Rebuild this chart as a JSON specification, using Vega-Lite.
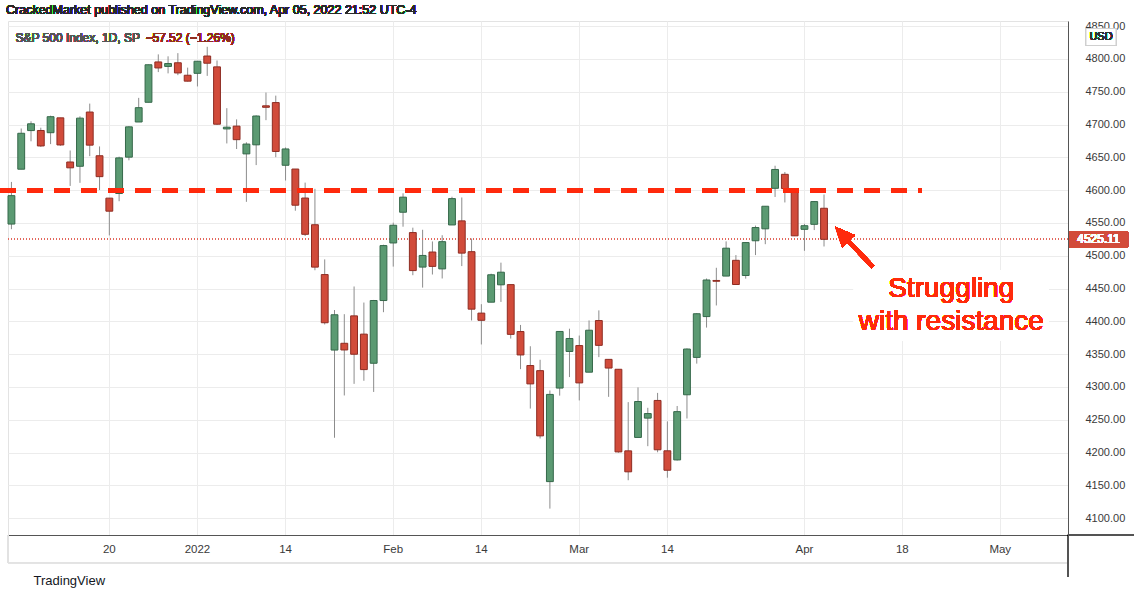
{
  "$schema": "https://vega.github.io/schema/vega-lite/v6.json",
  "width": 1060,
  "height": 514,
  "autosize": {"type": "none"},
  "padding": {"left": 8, "top": 21, "right": 66, "bottom": 56},
  "background": "#ffffff",
  "config": {
    "font": "Liberation Sans",
    "view": {"stroke": "#e3e3e3"}
  },
  "data": {
    "values": [
      {"date": "2021-12-06", "open": 4548.37, "high": 4612.60, "low": 4540.51, "close": 4591.67},
      {"date": "2021-12-07", "open": 4631.97, "high": 4694.04, "low": 4631.97, "close": 4686.75},
      {"date": "2021-12-08", "open": 4690.86, "high": 4705.06, "low": 4674.52, "close": 4701.21},
      {"date": "2021-12-09", "open": 4691.00, "high": 4695.26, "low": 4665.98, "close": 4667.45},
      {"date": "2021-12-10", "open": 4687.64, "high": 4713.57, "low": 4670.24, "close": 4712.02},
      {"date": "2021-12-13", "open": 4710.30, "high": 4710.30, "low": 4667.60, "close": 4668.97},
      {"date": "2021-12-14", "open": 4642.99, "high": 4660.47, "low": 4606.52, "close": 4634.09},
      {"date": "2021-12-15", "open": 4636.46, "high": 4712.60, "low": 4611.22, "close": 4709.85},
      {"date": "2021-12-16", "open": 4719.13, "high": 4731.99, "low": 4651.89, "close": 4668.67},
      {"date": "2021-12-17", "open": 4652.50, "high": 4666.70, "low": 4600.22, "close": 4620.64},
      {"date": "2021-12-20", "open": 4587.90, "high": 4587.90, "low": 4531.10, "close": 4568.02},
      {"date": "2021-12-21", "open": 4594.96, "high": 4651.14, "low": 4583.16, "close": 4649.23},
      {"date": "2021-12-22", "open": 4650.36, "high": 4697.67, "low": 4645.53, "close": 4696.56},
      {"date": "2021-12-23", "open": 4703.96, "high": 4740.74, "low": 4703.96, "close": 4725.79},
      {"date": "2021-12-27", "open": 4733.99, "high": 4791.49, "low": 4733.99, "close": 4791.19},
      {"date": "2021-12-28", "open": 4795.49, "high": 4807.02, "low": 4780.04, "close": 4786.35},
      {"date": "2021-12-29", "open": 4788.64, "high": 4804.06, "low": 4778.08, "close": 4793.06},
      {"date": "2021-12-30", "open": 4794.23, "high": 4808.93, "low": 4775.33, "close": 4778.73},
      {"date": "2021-12-31", "open": 4775.21, "high": 4786.83, "low": 4765.75, "close": 4766.18},
      {"date": "2022-01-03", "open": 4778.14, "high": 4796.64, "low": 4758.17, "close": 4796.56},
      {"date": "2022-01-04", "open": 4804.51, "high": 4818.62, "low": 4774.27, "close": 4793.54},
      {"date": "2022-01-05", "open": 4787.99, "high": 4797.70, "low": 4699.44, "close": 4700.58},
      {"date": "2022-01-06", "open": 4693.39, "high": 4725.01, "low": 4671.26, "close": 4696.05},
      {"date": "2022-01-07", "open": 4697.66, "high": 4707.95, "low": 4662.74, "close": 4677.03},
      {"date": "2022-01-10", "open": 4655.34, "high": 4673.02, "low": 4582.24, "close": 4670.29},
      {"date": "2022-01-11", "open": 4669.14, "high": 4714.13, "low": 4638.27, "close": 4713.07},
      {"date": "2022-01-12", "open": 4728.59, "high": 4748.83, "low": 4706.71, "close": 4726.35},
      {"date": "2022-01-13", "open": 4733.56, "high": 4744.13, "low": 4650.29, "close": 4659.03},
      {"date": "2022-01-14", "open": 4637.99, "high": 4665.13, "low": 4614.75, "close": 4662.85},
      {"date": "2022-01-18", "open": 4632.24, "high": 4632.24, "low": 4568.70, "close": 4577.11},
      {"date": "2022-01-19", "open": 4588.03, "high": 4611.55, "low": 4530.20, "close": 4532.76},
      {"date": "2022-01-20", "open": 4547.35, "high": 4602.11, "low": 4477.95, "close": 4482.73},
      {"date": "2022-01-21", "open": 4471.38, "high": 4494.52, "low": 4395.34, "close": 4397.94},
      {"date": "2022-01-24", "open": 4356.32, "high": 4417.35, "low": 4222.62, "close": 4410.13},
      {"date": "2022-01-25", "open": 4366.64, "high": 4411.01, "low": 4287.11, "close": 4356.45},
      {"date": "2022-01-26", "open": 4408.43, "high": 4453.23, "low": 4304.80, "close": 4349.93},
      {"date": "2022-01-27", "open": 4380.58, "high": 4428.74, "low": 4309.50, "close": 4326.51},
      {"date": "2022-01-28", "open": 4336.19, "high": 4432.72, "low": 4292.46, "close": 4431.85},
      {"date": "2022-01-31", "open": 4431.79, "high": 4516.89, "low": 4414.02, "close": 4515.55},
      {"date": "2022-02-01", "open": 4519.57, "high": 4550.49, "low": 4483.53, "close": 4546.54},
      {"date": "2022-02-02", "open": 4566.39, "high": 4595.31, "low": 4544.32, "close": 4589.38},
      {"date": "2022-02-03", "open": 4535.41, "high": 4542.88, "low": 4470.39, "close": 4477.44},
      {"date": "2022-02-04", "open": 4482.79, "high": 4539.66, "low": 4451.50, "close": 4500.53},
      {"date": "2022-02-07", "open": 4505.75, "high": 4521.86, "low": 4471.47, "close": 4483.87},
      {"date": "2022-02-08", "open": 4480.02, "high": 4531.32, "low": 4465.40, "close": 4521.54},
      {"date": "2022-02-09", "open": 4547.00, "high": 4590.03, "low": 4547.00, "close": 4587.18},
      {"date": "2022-02-10", "open": 4553.24, "high": 4588.92, "low": 4484.31, "close": 4504.08},
      {"date": "2022-02-11", "open": 4506.27, "high": 4526.33, "low": 4401.41, "close": 4418.64},
      {"date": "2022-02-14", "open": 4412.61, "high": 4426.22, "low": 4364.84, "close": 4401.67},
      {"date": "2022-02-15", "open": 4429.28, "high": 4472.77, "low": 4429.28, "close": 4471.07},
      {"date": "2022-02-16", "open": 4455.75, "high": 4489.55, "low": 4429.68, "close": 4475.01},
      {"date": "2022-02-17", "open": 4456.06, "high": 4456.06, "low": 4373.81, "close": 4380.26},
      {"date": "2022-02-18", "open": 4384.57, "high": 4394.60, "low": 4327.22, "close": 4348.87},
      {"date": "2022-02-22", "open": 4332.74, "high": 4362.12, "low": 4267.11, "close": 4304.76},
      {"date": "2022-02-23", "open": 4324.93, "high": 4341.51, "low": 4221.51, "close": 4225.50},
      {"date": "2022-02-24", "open": 4155.77, "high": 4294.73, "low": 4114.65, "close": 4288.70},
      {"date": "2022-02-25", "open": 4298.38, "high": 4385.34, "low": 4286.83, "close": 4384.65},
      {"date": "2022-02-28", "open": 4354.17, "high": 4388.84, "low": 4315.12, "close": 4373.94},
      {"date": "2022-03-01", "open": 4363.14, "high": 4378.45, "low": 4279.54, "close": 4306.26},
      {"date": "2022-03-02", "open": 4322.56, "high": 4401.48, "low": 4322.56, "close": 4386.54},
      {"date": "2022-03-03", "open": 4401.31, "high": 4416.78, "low": 4345.56, "close": 4363.49},
      {"date": "2022-03-04", "open": 4342.12, "high": 4342.12, "low": 4284.98, "close": 4328.87},
      {"date": "2022-03-07", "open": 4327.01, "high": 4327.01, "low": 4199.85, "close": 4201.09},
      {"date": "2022-03-08", "open": 4202.66, "high": 4276.94, "low": 4157.87, "close": 4170.70},
      {"date": "2022-03-09", "open": 4223.10, "high": 4299.40, "low": 4223.10, "close": 4277.88},
      {"date": "2022-03-10", "open": 4252.55, "high": 4268.28, "low": 4209.80, "close": 4259.52},
      {"date": "2022-03-11", "open": 4279.50, "high": 4291.01, "low": 4200.49, "close": 4204.31},
      {"date": "2022-03-14", "open": 4202.75, "high": 4247.57, "low": 4161.72, "close": 4173.11},
      {"date": "2022-03-15", "open": 4188.82, "high": 4271.05, "low": 4187.90, "close": 4262.45},
      {"date": "2022-03-16", "open": 4288.14, "high": 4358.90, "low": 4251.99, "close": 4357.86},
      {"date": "2022-03-17", "open": 4345.11, "high": 4412.67, "low": 4335.65, "close": 4411.67},
      {"date": "2022-03-18", "open": 4407.34, "high": 4465.40, "low": 4390.57, "close": 4463.12},
      {"date": "2022-03-21", "open": 4462.40, "high": 4481.75, "low": 4424.30, "close": 4461.18},
      {"date": "2022-03-22", "open": 4469.10, "high": 4522.00, "low": 4469.10, "close": 4511.61},
      {"date": "2022-03-23", "open": 4493.10, "high": 4501.07, "low": 4455.81, "close": 4456.24},
      {"date": "2022-03-24", "open": 4469.98, "high": 4520.58, "low": 4465.17, "close": 4520.16},
      {"date": "2022-03-25", "open": 4522.91, "high": 4546.03, "low": 4501.07, "close": 4543.06},
      {"date": "2022-03-28", "open": 4541.09, "high": 4575.65, "low": 4517.69, "close": 4575.52},
      {"date": "2022-03-29", "open": 4602.86, "high": 4637.30, "low": 4589.66, "close": 4631.60},
      {"date": "2022-03-30", "open": 4624.20, "high": 4627.77, "low": 4581.32, "close": 4602.45},
      {"date": "2022-03-31", "open": 4599.02, "high": 4603.07, "low": 4530.41, "close": 4530.41},
      {"date": "2022-04-01", "open": 4540.32, "high": 4548.70, "low": 4507.57, "close": 4545.86},
      {"date": "2022-04-04", "open": 4547.97, "high": 4583.50, "low": 4539.21, "close": 4582.64},
      {"date": "2022-04-05", "open": 4572.45, "high": 4593.45, "low": 4514.17, "close": 4525.11}
    ]
  },
  "layer": [
    {
      "mark": {"type": "rule", "color": "#8c8c8c", "strokeWidth": 1},
      "encoding": {
        "x": {
          "field": "date",
          "type": "ordinal",
          "scale": {
            "type": "band",
            "paddingInner": 0.3,
            "paddingOuter": 0.285,
            "align": 0,
            "domain": [
              "2021-12-06","2021-12-07","2021-12-08","2021-12-09","2021-12-10","2021-12-13","2021-12-14","2021-12-15","2021-12-16","2021-12-17","2021-12-20","2021-12-21","2021-12-22","2021-12-23","2021-12-27","2021-12-28","2021-12-29","2021-12-30","2021-12-31",
              "2022-01-03","2022-01-04","2022-01-05","2022-01-06","2022-01-07","2022-01-10","2022-01-11","2022-01-12","2022-01-13","2022-01-14","2022-01-18","2022-01-19","2022-01-20","2022-01-21","2022-01-24","2022-01-25","2022-01-26","2022-01-27","2022-01-28","2022-01-31",
              "2022-02-01","2022-02-02","2022-02-03","2022-02-04","2022-02-07","2022-02-08","2022-02-09","2022-02-10","2022-02-11","2022-02-14","2022-02-15","2022-02-16","2022-02-17","2022-02-18","2022-02-22","2022-02-23","2022-02-24","2022-02-25","2022-02-28",
              "2022-03-01","2022-03-02","2022-03-03","2022-03-04","2022-03-07","2022-03-08","2022-03-09","2022-03-10","2022-03-11","2022-03-14","2022-03-15","2022-03-16","2022-03-17","2022-03-18","2022-03-21","2022-03-22","2022-03-23","2022-03-24","2022-03-25","2022-03-28","2022-03-29","2022-03-30","2022-03-31",
              "2022-04-01","2022-04-04","2022-04-05","2022-04-06","2022-04-07","2022-04-08","2022-04-11","2022-04-12","2022-04-13","2022-04-14","2022-04-18","2022-04-19","2022-04-20","2022-04-21","2022-04-22","2022-04-25","2022-04-26","2022-04-27","2022-04-28","2022-04-29",
              "2022-05-02","2022-05-03","2022-05-04","2022-05-05","2022-05-06","2022-05-09","2022-05-10"
            ]
          },
          "axis": {
            "orient": "bottom",
            "values": ["2021-12-20","2022-01-03","2022-01-14","2022-02-01","2022-02-14","2022-03-01","2022-03-14","2022-04-01","2022-04-18","2022-05-02"],
            "labelExpr": "datum.value == '2021-12-20' ? '20' : datum.value == '2022-01-03' ? '2022' : datum.value == '2022-01-14' ? '14' : datum.value == '2022-02-01' ? 'Feb' : datum.value == '2022-02-14' ? '14' : datum.value == '2022-03-01' ? 'Mar' : datum.value == '2022-03-14' ? '14' : datum.value == '2022-04-01' ? 'Apr' : datum.value == '2022-04-18' ? '18' : 'May'",
            "bandPosition": 0.5,
            "labelAngle": 0,
            "labelFont": "Liberation Sans",
            "labelFontSize": 11.5,
            "labelColor": "#3a3a3a",
            "labelPadding": 8,
            "labelOverlap": false,
            "ticks": false,
            "grid": true,
            "gridColor": "#ececec",
            "gridWidth": 1,
            "domain": true,
            "domainColor": "#555555",
            "domainWidth": 1,
            "title": "TradingView",
            "titleX": 25,
            "titleY": 45,
            "titleAlign": "left",
            "titleBaseline": "middle",
            "titleFont": "Liberation Sans",
            "titleFontSize": 13,
            "titleFontWeight": "normal",
            "titleColor": "#131722"
          }
        },
        "y": {
          "field": "low",
          "type": "quantitative",
          "scale": {"domain": [4074.4, 4857.9], "nice": false, "zero": false},
          "axis": {
            "orient": "right",
            "values": [4100,4150,4200,4250,4300,4350,4400,4450,4500,4550,4600,4650,4700,4750,4800,4850],
            "tickCount": 16,
            "format": ".2f",
            "labelFont": "Liberation Sans",
            "labelFontSize": 11,
            "labelColor": "#3a3a3a",
            "labelPadding": 17,
            "labelOverlap": false,
            "labelFlush": false,
            "labelBound": false,
            "ticks": false,
            "grid": true,
            "gridColor": "#ececec",
            "domain": true,
            "domainColor": "#555555",
            "title": null
          }
        },
        "y2": {"field": "high"}
      }
    },
    {
      "mark": {"type": "rule", "color": "#e2675c", "strokeWidth": 1, "strokeDash": [1, 2]},
      "encoding": {
        "y": {"datum": 4525.11, "type": "quantitative"}
      }
    },
    {
      "mark": {"type": "bar", "strokeWidth": 1},
      "encoding": {
        "x": {"field": "date", "type": "ordinal"},
        "y": {"field": "open", "type": "quantitative"},
        "y2": {"field": "close"},
        "color": {
          "condition": {"test": "datum.close >= datum.open", "value": "#5b9a72"},
          "value": "#d14b3a"
        },
        "stroke": {
          "condition": {"test": "datum.close >= datum.open", "value": "#35684a"},
          "value": "#8e2c22"
        }
      }
    },
    {
      "mark": {"type": "rule", "color": "#ff2a0c", "strokeWidth": 4, "strokeDash": [15, 12], "xOffset": -11},
      "encoding": {
        "x": {"datum": "2021-12-06", "type": "ordinal"},
        "x2": {"datum": "2022-04-20"},
        "y": {"datum": 4600, "type": "quantitative"}
      }
    },
    {
      "mark": {"type": "point", "shape": "M-1,-0.36L1,-0.36L1,0.36L-1,0.36Z", "size": 38025, "filled": true, "color": "#ffffff", "opacity": 1},
      "encoding": {
        "x": {"datum": "2022-04-25", "type": "ordinal"},
        "y": {"datum": 4424.2, "type": "quantitative"}
      }
    },
    {
      "mark": {"type": "rule", "color": "#ff2a0c", "strokeWidth": 4},
      "encoding": {
        "x": {"datum": "2022-04-12", "type": "ordinal"},
        "x2": {"datum": "2022-04-07"},
        "y": {"datum": 4483, "type": "quantitative"},
        "y2": {"datum": 4530}
      }
    },
    {
      "mark": {"type": "point", "shape": "M0,-1L0.8,0.8L-0.8,0.8Z", "size": 484, "angle": 317.5, "filled": true, "color": "#ff2a0c", "opacity": 1, "xOffset": -1},
      "encoding": {
        "x": {"datum": "2022-04-07", "type": "ordinal"},
        "y": {"datum": 4532, "type": "quantitative"}
      }
    },
    {
      "mark": {"type": "text", "font": "Liberation Sans", "fontSize": 28, "lineHeight": 33, "color": "#ff2a0c", "align": "center", "baseline": "middle"},
      "encoding": {
        "x": {"datum": "2022-04-25", "type": "ordinal"},
        "y": {"datum": 4449.4, "type": "quantitative"},
        "text": {"value": ["Struggling", "with resistance"]}
      }
    },
    {
      "mark": {"type": "text", "font": "Liberation Sans", "fontSize": 12.5, "color": "#2a2a2a", "align": "left", "baseline": "middle", "dx": -5.4},
      "encoding": {
        "x": {"datum": "2021-12-06", "type": "ordinal"},
        "y": {"datum": 4874.7, "type": "quantitative"},
        "text": {"value": "CrackedMarket published on TradingView.com, Apr 05, 2022 21:52 UTC-4"}
      }
    },
    {
      "mark": {"type": "text", "font": "Liberation Sans", "fontSize": 12, "color": "#555555", "align": "left", "baseline": "middle", "dx": 4},
      "encoding": {
        "x": {"datum": "2021-12-06", "type": "ordinal"},
        "y": {"datum": 4832, "type": "quantitative"},
        "text": {"value": "S&P 500 Index, 1D, SP"}
      }
    },
    {
      "mark": {"type": "text", "font": "Liberation Sans", "fontSize": 12, "color": "#922d20", "align": "left", "baseline": "middle", "dx": 134},
      "encoding": {
        "x": {"datum": "2021-12-06", "type": "ordinal"},
        "y": {"datum": 4832, "type": "quantitative"},
        "text": {"value": "−57.52 (−1.26%)"}
      }
    },
    {
      "mark": {"type": "rule", "color": "#e3e3e3", "strokeWidth": 1},
      "encoding": {
        "y": {"datum": 4031.7, "type": "quantitative"}
      }
    },
    {
      "mark": {"type": "rule", "color": "#e3e3e3", "strokeWidth": 1, "xOffset": -3.4},
      "encoding": {
        "x": {"datum": "2021-12-06", "type": "ordinal"},
        "y": {"datum": 4074.4, "type": "quantitative"},
        "y2": {"datum": 4031.7}
      }
    },
    {
      "mark": {"type": "rule", "color": "#555555", "strokeWidth": 1, "xOffset": 9},
      "encoding": {
        "x": {"datum": "2022-05-10", "type": "ordinal"},
        "y": {"datum": 4074.4, "type": "quantitative"},
        "y2": {"datum": 4010.4}
      }
    },
    {
      "mark": {"type": "rule", "color": "#555555", "strokeWidth": 1, "xOffset": 9, "x2Offset": 75},
      "encoding": {
        "x": {"datum": "2022-05-10", "type": "ordinal"},
        "x2": {"datum": "2022-05-10"},
        "y": {"datum": 4074.4, "type": "quantitative"}
      }
    },
    {
      "mark": {"type": "point", "shape": "M0.34,-0.27L2.34,-0.27L2.34,0.27L0.34,0.27Z", "size": 3481, "filled": true, "color": "#d24b3a", "opacity": 1},
      "encoding": {
        "x": {"datum": "2022-05-10", "type": "ordinal"},
        "y": {"datum": 4525.11, "type": "quantitative"}
      }
    },
    {
      "mark": {"type": "text", "font": "Liberation Sans", "fontSize": 12, "color": "#ffffff", "align": "center", "baseline": "middle", "dx": 39.5},
      "encoding": {
        "x": {"datum": "2022-05-10", "type": "ordinal"},
        "y": {"datum": 4525.11, "type": "quantitative"},
        "text": {"value": "4525.11"}
      }
    },
    {
      "mark": {"type": "point", "shape": "M2.7,-0.85L5.7,-0.85L5.7,0.85L2.7,0.85Z", "size": 400, "filled": false, "fill": "#ffffff", "stroke": "#cfcfcf", "strokeWidth": 1, "opacity": 1},
      "encoding": {
        "x": {"datum": "2022-05-10", "type": "ordinal"},
        "y": {"datum": 4833.5, "type": "quantitative"}
      }
    },
    {
      "mark": {"type": "text", "font": "Liberation Sans", "fontSize": 11, "color": "#333333", "align": "center", "baseline": "middle", "dx": 42},
      "encoding": {
        "x": {"datum": "2022-05-10", "type": "ordinal"},
        "y": {"datum": 4833.5, "type": "quantitative"},
        "text": {"value": "USD"}
      }
    }
  ]
}
